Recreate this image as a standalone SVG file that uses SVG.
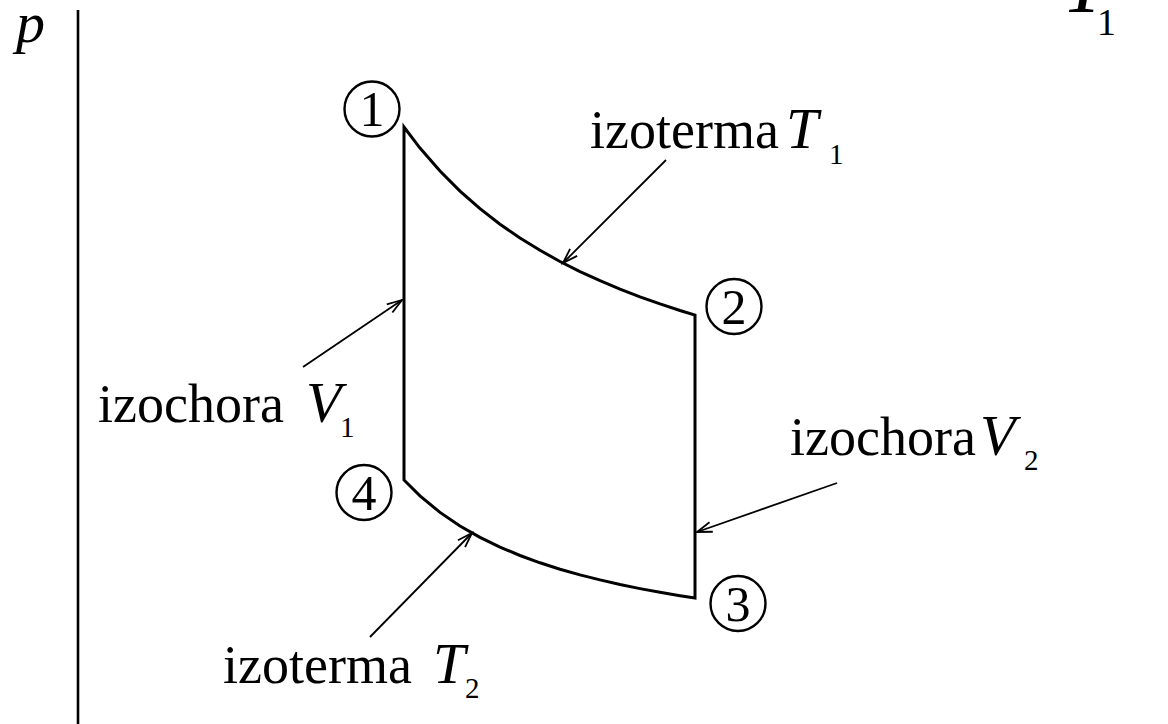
<svg xmlns="http://www.w3.org/2000/svg" width="1168" height="724" viewBox="0 0 1168 724">
  <style>
    .txt { font-family: "Liberation Serif", "Times New Roman", serif; font-size: 54px; fill: #000; }
    .it { font-style: italic; font-size: 58px; }
    .sub { font-size: 29px; font-style: normal; }
    .num { font-family: "Liberation Serif", "Times New Roman", serif; font-size: 50px; fill: #000; text-anchor: middle; }
    .ring { fill: none; stroke: #000; stroke-width: 2.4; }
    .cyc { fill: none; stroke: #000; stroke-width: 3; stroke-linejoin: miter; }
    .lead { fill: none; stroke: #000; stroke-width: 1.8; marker-end: url(#arr); }
    .axis { stroke: #000; stroke-width: 2.6; }
  </style>
  <defs>
    <marker id="arr" markerUnits="userSpaceOnUse" viewBox="-17 -7 19 14" markerWidth="19" markerHeight="14" refX="0" refY="0" orient="auto" overflow="visible">
      <path d="M-15,-5 L0,0 L-15,5" fill="none" stroke="#000" stroke-width="1.8"/>
    </marker>
  </defs>
  <rect width="1168" height="724" fill="#fff"/>

  <g id="axis">
    <line class="axis" x1="78" y1="10" x2="78" y2="724"/>
    <text class="txt it" x="16" y="42" font-size="56">p</text>
  </g>

  <g id="title">
    <text class="txt it" x="1062" y="12" style="font-size:80px">T</text>
    <text class="txt" x="1097" y="35" style="font-size:38px">1</text>
  </g>

  <g id="connectors">
    <path id="cycle" class="cyc" d="M404,480 L404,127 L420,148.1 L440,171.1 L460,191.1 L480,208.7 L500,224.2 L520,238 L540,250.3 L560,261.5 L580,271.6 L600,280.7 L620,289.1 L640,296.8 L660,303.9 L680,310.5 L695,315 L695,598 L680,595.7 L660,592.3 L640,588.6 L620,584.5 L600,579.9 L580,574.9 L560,569.2 L540,562.8 L520,555.5 L500,547.1 L480,537.4 L460,526 L440,512.4 L420,495.9 Z"/>
    <line class="lead" x1="666" y1="160" x2="563" y2="263"/>
    <line class="lead" x1="303" y1="367" x2="402" y2="300"/>
    <line class="lead" x1="837" y1="483" x2="697" y2="532"/>
    <line class="lead" x1="370" y1="637" x2="472" y2="533"/>
  </g>

  <g id="state1">
    <circle class="ring" cx="372" cy="109" r="27.5"/>
    <text class="num" x="372" y="126">1</text>
  </g>
  <g id="state2">
    <circle class="ring" cx="734" cy="306.5" r="27.5"/>
    <text class="num" x="734" y="324">2</text>
  </g>
  <g id="state3">
    <circle class="ring" cx="738" cy="603.5" r="27.5"/>
    <text class="num" x="738" y="621">3</text>
  </g>
  <g id="state4">
    <circle class="ring" cx="364" cy="492.5" r="27.5"/>
    <text class="num" x="364" y="510">4</text>
  </g>

  <g id="label-T1">
    <text class="txt" x="590" y="148">izoterma</text>
    <text class="txt it" x="786" y="148">T</text>
    <text class="txt sub" x="829" y="164">1</text>
  </g>
  <g id="label-V1">
    <text class="txt" x="98" y="422">izochora</text>
    <text class="txt it" x="306" y="422">V</text>
    <text class="txt sub" x="340" y="437">1</text>
  </g>
  <g id="label-V2">
    <text class="txt" x="790" y="455">izochora</text>
    <text class="txt it" x="980" y="455">V</text>
    <text class="txt sub" x="1024" y="470">2</text>
  </g>
  <g id="label-T2">
    <text class="txt" x="223" y="683">izoterma</text>
    <text class="txt it" x="433" y="683">T</text>
    <text class="txt sub" x="465" y="698">2</text>
  </g>
</svg>
